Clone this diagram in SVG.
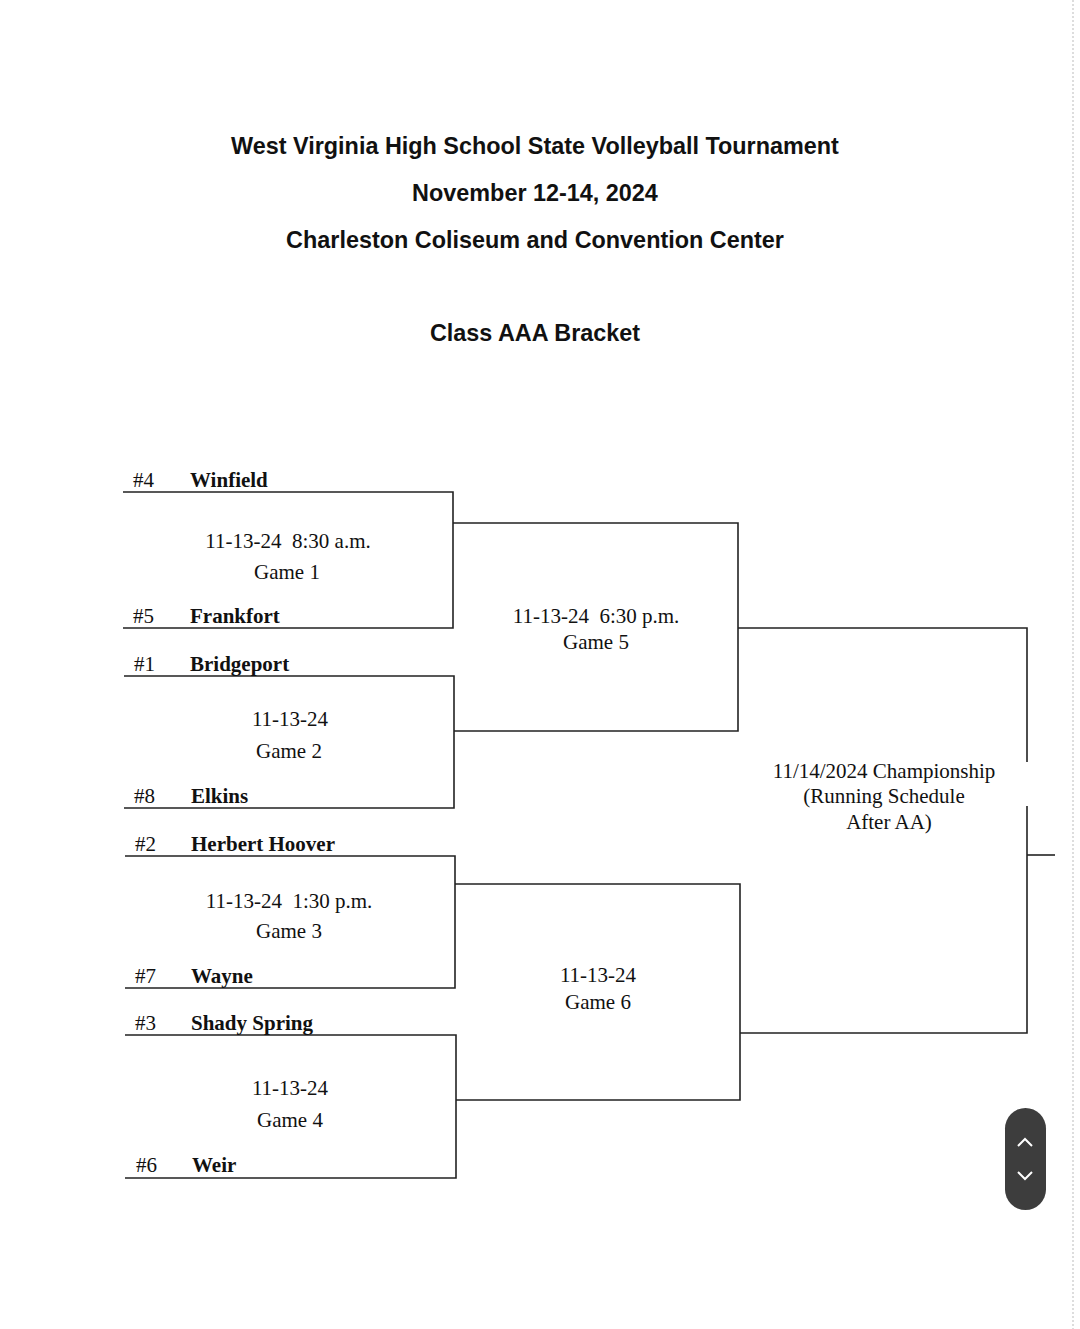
<svg xmlns="http://www.w3.org/2000/svg" width="1080" height="1329" viewBox="0 0 1080 1329">
<style>
.t{font-family:"Liberation Sans",Arial,sans-serif;font-weight:bold;font-size:23.4px;fill:#111;text-anchor:middle}
.s{font-family:"Liberation Serif","Times New Roman",serif;font-size:21px;fill:#111}
.b{font-weight:bold}
.c{text-anchor:middle}
.ln{stroke:#222;stroke-width:1.6;fill:none}
</style>
<rect width="1080" height="1329" fill="#fff"/>
<line x1="1073" y1="0" x2="1073" y2="1329" stroke="#bbb" stroke-width="1" stroke-dasharray="2 2"/>
<g id="header">
<text class="t" x="535" y="154">West Virginia High School State Volleyball Tournament</text>
<text class="t" x="535" y="201">November 12-14, 2024</text>
<text class="t" x="535" y="248">Charleston Coliseum and Convention Center</text>
<text class="t" x="535" y="341">Class AAA Bracket</text>
</g>
<g id="connectors" class="ln">
<path d="M123 492H453V628H123"/>
<path d="M124 676H454V808H124"/>
<path d="M125 856H455V988H125"/>
<path d="M125 1035H456V1178H125"/>
<path d="M453 523H738V731H454"/>
<path d="M455 884H740V1100H456"/>
<path d="M738 628H1027V762"/>
<path d="M1027 806V1033H740"/>
<path d="M1027 855H1055"/>
</g>
<g id="game1">
<text class="s" x="133" y="487">#4</text><text class="s b" x="190" y="487">Winfield</text>
<text class="s c" x="288" y="548" xml:space="preserve">11-13-24  8:30 a.m.</text>
<text class="s c" x="287" y="579">Game 1</text>
<text class="s" x="133" y="623">#5</text><text class="s b" x="190" y="623">Frankfort</text>
</g>
<g id="game2">
<text class="s" x="134" y="671">#1</text><text class="s b" x="190" y="671">Bridgeport</text>
<text class="s c" x="290" y="726">11-13-24</text>
<text class="s c" x="289" y="758">Game 2</text>
<text class="s" x="134" y="803">#8</text><text class="s b" x="191" y="803">Elkins</text>
</g>
<g id="game3">
<text class="s" x="135" y="851">#2</text><text class="s b" x="191" y="851">Herbert Hoover</text>
<text class="s c" x="289" y="908" xml:space="preserve">11-13-24  1:30 p.m.</text>
<text class="s c" x="289" y="938">Game 3</text>
<text class="s" x="135" y="983">#7</text><text class="s b" x="191" y="983">Wayne</text>
</g>
<g id="game4">
<text class="s" x="135" y="1030">#3</text><text class="s b" x="191" y="1030">Shady Spring</text>
<text class="s c" x="290" y="1095">11-13-24</text>
<text class="s c" x="290" y="1127">Game 4</text>
<text class="s" x="136" y="1172">#6</text><text class="s b" x="192" y="1172">Weir</text>
</g>
<g id="game5">
<text class="s c" x="596" y="623" xml:space="preserve">11-13-24  6:30 p.m.</text>
<text class="s c" x="596" y="649">Game 5</text>
</g>
<g id="game6">
<text class="s c" x="598" y="982">11-13-24</text>
<text class="s c" x="598" y="1009">Game 6</text>
</g>
<g id="championship">
<text class="s c" x="884" y="778">11/14/2024 Championship</text>
<text class="s c" x="884" y="803">(Running Schedule</text>
<text class="s c" x="889" y="829">After AA)</text>
</g>
<g id="scroll">
<rect x="1005" y="1108" width="41" height="102" rx="20.5" fill="#3d3d3d"/>
<path d="M1018 1146L1025 1139L1032 1146M1018 1172L1025 1179L1032 1172" stroke="#fff" stroke-width="2" fill="none"/>
</g>
</svg>
